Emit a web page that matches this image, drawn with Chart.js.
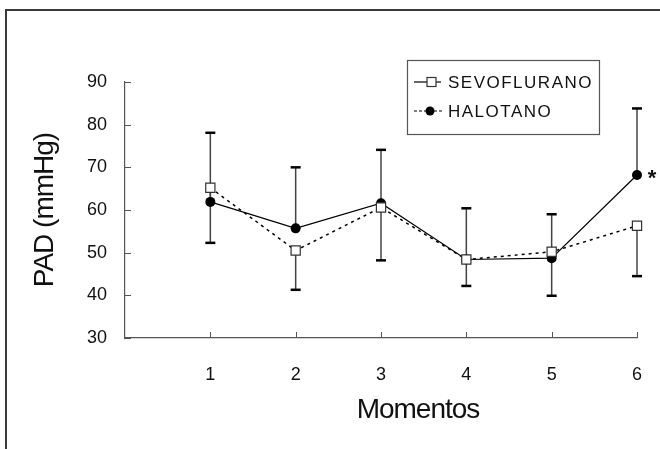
<!DOCTYPE html>
<html>
<head>
<meta charset="utf-8">
<script src="https://cdn.jsdelivr.net/npm/chart.js@4"></script>
<style>
  body { margin: 0; background: #fff; }
  #wrap { width: 660px; height: 449px; position: relative; }
</style>
</head>
<body>
<div id="wrap"><canvas id="chart" width="660" height="449"></canvas></div>
<script>
// Data
const momentos = [1, 2, 3, 4, 5, 6];
const sevoflurano = [65.2, 50.5, 60.6, 48.4, 50.2, 56.3];
const halotano = [61.9, 55.7, 61.6, 48.4, 48.7, 68.2];
// upper bar ends (halotano) and lower bar ends (sevoflurano)
const halotanoUpper = [78.1, 70.0, 74.1, 60.4, 59.0, 83.8];
const sevofluranoLower = [52.3, 41.3, 48.2, 42.2, 39.9, 44.5];
const yTicks = [30, 40, 50, 60, 70, 80, 90];

const FONT = "'Liberation Sans', Arial, sans-serif";

// error bars, inward ticks, frame, titles, legend
const extras = {
  id: "extras",
  beforeDraw(chart) {
    const ctx = chart.ctx;
    ctx.save();
    ctx.strokeStyle = "#3a3a3a";
    ctx.lineWidth = 2;
    ctx.beginPath();
    ctx.moveTo(6, 449);
    ctx.lineTo(6, 10);
    ctx.lineTo(660, 10);
    ctx.stroke();
    ctx.restore();
  },
  beforeDatasetsDraw(chart) {
    const ctx = chart.ctx;
    const x = chart.scales.x;
    const y = chart.scales.y;
    ctx.save();
    // inward ticks
    ctx.strokeStyle = "#555";
    ctx.lineWidth = 1;
    yTicks.forEach((v) => {
      const py = Math.round(y.getPixelForValue(v)) + 0.5;
      ctx.beginPath();
      ctx.moveTo(x.left, py);
      ctx.lineTo(x.left + 6, py);
      ctx.stroke();
    });
    momentos.forEach((m) => {
      const px = Math.round(x.getPixelForValue(m)) + 0.5;
      ctx.beginPath();
      ctx.moveTo(px, y.bottom);
      ctx.lineTo(px, y.bottom - 6);
      ctx.stroke();
    });
    // error bars
    const bar = (m, from, to) => {
      const px = x.getPixelForValue(m);
      const p1 = y.getPixelForValue(from);
      const p2 = y.getPixelForValue(to);
      ctx.strokeStyle = "#444";
      ctx.lineWidth = 1.5;
      ctx.beginPath();
      ctx.moveTo(px, p1);
      ctx.lineTo(px, p2);
      ctx.stroke();
      ctx.strokeStyle = "#000";
      ctx.lineWidth = 2.5;
      ctx.beginPath();
      ctx.moveTo(px - 5, p2);
      ctx.lineTo(px + 5, p2);
      ctx.stroke();
    };
    momentos.forEach((m, i) => {
      bar(m, halotano[i], halotanoUpper[i]);
      bar(m, sevoflurano[i], sevofluranoLower[i]);
    });
    ctx.restore();
  },
  afterDraw(chart) {
    const ctx = chart.ctx;
    const x = chart.scales.x;
    const y = chart.scales.y;
    ctx.save();
    ctx.fillStyle = "#111";
    // x title
    ctx.font = "28px " + FONT;
    ctx.letterSpacing = "-1px";
    ctx.textAlign = "center";
    ctx.textBaseline = "middle";
    ctx.fillText("Momentos", 418, 410);
    // y title
    ctx.save();
    ctx.translate(45, 210);
    ctx.rotate(-Math.PI / 2);
    ctx.fillText("PAD (mmHg)", 0, 0);
    ctx.restore();
    // asterisk
    ctx.letterSpacing = "0px";
    ctx.font = "bold 22px " + FONT;
    ctx.fillText("*", x.getPixelForValue(6) + 15, y.getPixelForValue(halotano[5]) + 4);
    // legend
    ctx.strokeStyle = "#555";
    ctx.lineWidth = 1.2;
    ctx.strokeRect(407.5, 60.5, 192, 74);
    ctx.strokeStyle = "#000";
    ctx.lineWidth = 1.2;
    ctx.beginPath();
    ctx.moveTo(414, 82);
    ctx.lineTo(441, 82);
    ctx.stroke();
    ctx.fillStyle = "#fff";
    ctx.fillRect(427, 77.5, 9, 9);
    ctx.strokeStyle = "#333";
    ctx.strokeRect(427, 77.5, 9, 9);
    ctx.setLineDash([3, 2]);
    ctx.strokeStyle = "#000";
    ctx.beginPath();
    ctx.moveTo(414, 111);
    ctx.lineTo(444, 111);
    ctx.stroke();
    ctx.setLineDash([]);
    ctx.fillStyle = "#000";
    ctx.beginPath();
    ctx.arc(430, 111, 4.5, 0, Math.PI * 2);
    ctx.fill();
    ctx.fillStyle = "#111";
    ctx.font = "17px " + FONT;
    ctx.letterSpacing = "1.5px";
    ctx.textAlign = "left";
    ctx.fillText("SEVOFLURANO", 448, 83);
    ctx.fillText("HALOTANO", 448, 112);
    ctx.restore();
  },
};

new Chart(document.getElementById("chart"), {
  type: "line",
  data: {
    datasets: [
      {
        label: "SEVOFLURANO",
        data: momentos.map((m, i) => ({ x: m, y: sevoflurano[i] })),
        borderColor: "#000",
        borderWidth: 1.5,
        borderDash: [3, 4],
        pointStyle: "rect",
        pointRadius: 6.5,
        pointBackgroundColor: "#fff",
        pointBorderColor: "#333",
        pointBorderWidth: 1.2,
        tension: 0,
      },
      {
        label: "HALOTANO",
        data: momentos.map((m, i) => ({ x: m, y: halotano[i] })),
        borderColor: "#000",
        borderWidth: 1.2,
        pointStyle: "circle",
        pointRadius: 5,
        pointBackgroundColor: "#000",
        pointBorderColor: "#000",
        pointBorderWidth: 0,
        tension: 0,
      },
    ],
  },
  options: {
    responsive: false,
    animation: false,
    clip: false,
    layout: { padding: { left: 0, top: 82, right: 23, bottom: 0 } },
    plugins: {
      legend: { display: false },
      tooltip: { enabled: false },
    },
    scales: {
      x: {
        type: "linear",
        min: 0,
        max: 6,
        afterFit: (s) => {
          s.height = 111;
          s.paddingLeft = 0;
          s.paddingRight = 0;
        },
        afterBuildTicks: (s) => { s.ticks = momentos.map((v) => ({ value: v })); },
        grid: { display: false, drawTicks: false },
        border: { display: true, color: "#555", width: 1.2 },
        ticks: {
          padding: 26,
          color: "#111",
          font: { family: FONT, size: 18 },
        },
      },
      y: {
        min: 30,
        max: 90,
        afterFit: (s) => {
          s.width = 125;
          s.paddingTop = 0;
          s.paddingBottom = 0;
        },
        afterBuildTicks: (s) => { s.ticks = yTicks.map((v) => ({ value: v })); },
        grid: { display: false, drawTicks: false },
        border: { display: true, color: "#555", width: 1.2 },
        ticks: {
          padding: 18,
          color: "#111",
          font: { family: FONT, size: 18 },
        },
      },
    },
  },
  plugins: [extras],
});
</script>
</body>
</html>
